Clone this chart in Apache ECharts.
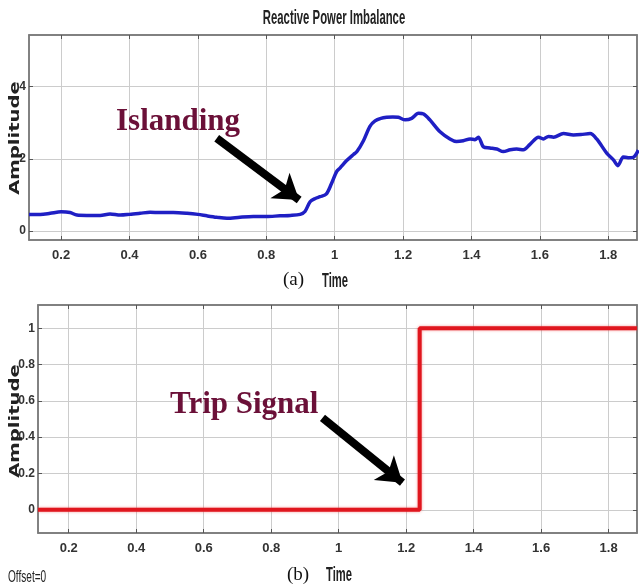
<!DOCTYPE html>
<html>
<head>
<meta charset="utf-8">
<script src="https://cdn.jsdelivr.net/npm/echarts@6/dist/echarts.min.js"></script>
<style>
  html, body { margin: 0; padding: 0; background: #fff; }
  #main { width: 639px; height: 586px; }
</style>
</head>
<body>
<div id="main"></div>
<script>
// (a) 无功功率不平衡
var timeA = [0.106, 0.139, 0.168, 0.2, 0.226, 0.246, 0.275, 0.314, 0.343, 0.373, 0.4, 0.431, 0.46, 0.49, 0.528, 0.568, 0.6,
    0.626, 0.655, 0.685, 0.723, 0.762, 0.8, 0.84, 0.87, 0.899, 0.913, 0.928, 0.943, 0.957, 0.975, 0.99, 1.006, 1.016,
    1.035, 1.055, 1.065, 1.084, 1.103, 1.118, 1.135, 1.152, 1.17, 1.186, 1.206, 1.225, 1.245, 1.26, 1.279, 1.308, 1.337,
    1.356, 1.376, 1.396, 1.41, 1.42, 1.435, 1.454, 1.474, 1.493, 1.513, 1.532, 1.552, 1.571, 1.596, 1.61, 1.625, 1.64,
    1.669, 1.698, 1.72, 1.747, 1.766, 1.796, 1.815, 1.828, 1.844, 1.858, 1.873, 1.888];
var ampA = [0.46, 0.46, 0.49, 0.53, 0.51, 0.44, 0.43, 0.43, 0.47, 0.44, 0.46, 0.49, 0.52, 0.51, 0.51, 0.49, 0.46,
    0.42, 0.38, 0.35, 0.38, 0.4, 0.4, 0.42, 0.43, 0.46, 0.54, 0.81, 0.9, 0.95, 1.02, 1.3, 1.65, 1.75,
    1.95, 2.12, 2.2, 2.5, 2.9, 3.05, 3.12, 3.15, 3.16, 3.15, 3.08, 3.12, 3.26, 3.24, 3.07, 2.75, 2.55,
    2.48, 2.5, 2.55, 2.53, 2.6, 2.33, 2.3, 2.27, 2.2, 2.25, 2.27, 2.25, 2.4, 2.6, 2.55, 2.62, 2.6,
    2.7, 2.66, 2.67, 2.7, 2.55, 2.15, 1.97, 1.81, 2.05, 2.03, 2.04, 2.24];

// (b) 跳闸信号
var timeB = [0.109, 1.24, 1.24, 1.884];
var ampB = [0, 0, 1, 1];

var xTicks = [0.2, 0.4, 0.6, 0.8, 1, 1.2, 1.4, 1.6, 1.8];
var yTicksA = [0, 2, 4];
var yTicksB = [0, 0.2, 0.4, 0.6, 0.8, 1];

// 箭头 [起点, 终点]
var arrowA = [[0.655, 2.57], [0.896, 0.86]];
var arrowB = [[0.952, 0.506], [1.189, 0.149]];

function zip(xs, ys) {
    var out = [];
    for (var i = 0; i < xs.length; i++) {
        out.push([xs[i], ys[i]]);
    }
    return out;
}

var sans = "'Liberation Sans', Arial, sans-serif";
var serif = "'Liberation Serif', 'Times New Roman', serif";
var frameColor = '#7a7a7a';
var gridColor = '#cccccc';
var labelColor = '#333333';

function mainX(idx, min, max) {
    return {
        type: 'value', gridIndex: idx, min: min, max: max, position: 'bottom',
        axisLine: { show: true, onZero: false, lineStyle: { color: frameColor, width: 1.5 } },
        axisTick: { show: true, inside: true, length: 4, customValues: xTicks, lineStyle: { color: '#555' } },
        axisLabel: {
            customValues: xTicks, margin: 9, color: labelColor, fontFamily: sans, fontWeight: 'bold', fontSize: 13
        },
        splitLine: { show: true, lineStyle: { color: gridColor, width: 1 } }
    };
}
function topX(idx, min, max) {
    return {
        type: 'value', gridIndex: idx, min: min, max: max, position: 'top',
        axisLine: { show: true, onZero: false, lineStyle: { color: frameColor, width: 1.5 } },
        axisTick: { show: true, inside: true, length: 4, customValues: xTicks, lineStyle: { color: '#555' } },
        axisLabel: { show: false },
        splitLine: { show: false }
    };
}
function mainY(idx, min, max, ticks) {
    return {
        type: 'value', gridIndex: idx, min: min, max: max, position: 'left',
        axisLine: { show: true, onZero: false, lineStyle: { color: frameColor, width: 1.5 } },
        axisTick: { show: true, inside: true, length: 4, customValues: ticks, lineStyle: { color: '#555' } },
        axisLabel: {
            customValues: ticks, margin: 3, color: labelColor, fontFamily: sans, fontWeight: 'bold', fontSize: 12
        },
        splitLine: { show: true, lineStyle: { color: gridColor, width: 1 } }
    };
}
function rightY(idx, min, max, ticks) {
    return {
        type: 'value', gridIndex: idx, min: min, max: max, position: 'right',
        axisLine: { show: true, onZero: false, lineStyle: { color: frameColor, width: 1.5 } },
        axisTick: { show: true, inside: true, length: 4, customValues: ticks, lineStyle: { color: '#555' } },
        axisLabel: { show: false },
        splitLine: { show: false }
    };
}
function arrowLine(a) {
    return {
        silent: true,
        animation: false,
        symbol: ['none', 'arrow'],
        symbolSize: 24,
        label: { show: false },
        emphasis: { disabled: true },
        lineStyle: { color: '#000', width: 8, type: 'solid' },
        data: [[{ coord: a[0] }, { coord: a[1] }]]
    };
}
// 压缩/拉伸的窄体文字
function squeezed(text, x, y, font, sx, sy, align, color) {
    return {
        type: 'text', x: x, y: y, scaleX: sx, scaleY: sy, z: 50,
        style: { text: text, fill: color || '#222', font: font, align: align || 'left', verticalAlign: 'middle' }
    };
}
function ampName(y) {
    return {
        type: 'text', x: 15, y: y, rotation: Math.PI / 2, scaleX: 1.4, z: 50,
        style: { text: 'Amplitude', fill: '#222', font: 'bold 14px "DejaVu Sans", sans-serif', align: 'center', verticalAlign: 'middle' }
    };
}

var myChart = echarts.init(document.getElementById('main'));

var option = {
    backgroundColor: '#fff',
    animation: false,
    grid: [
        { left: 29, top: 35, right: 2, height: 205, outerBoundsMode: 'none', show: true, borderColor: frameColor, borderWidth: 1.5, backgroundColor: '#fff' },
        { left: 38, top: 305, right: 2, height: 228, outerBoundsMode: 'none', show: true, borderColor: frameColor, borderWidth: 1.5, backgroundColor: '#fff' }
    ],
    xAxis: [
        mainX(0, 0.106, 1.884),
        mainX(1, 0.109, 1.884),
        topX(0, 0.106, 1.884),
        topX(1, 0.109, 1.884)
    ],
    yAxis: [
        mainY(0, -0.25, 5.43, yTicksA),
        mainY(1, -0.128, 1.128, yTicksB),
        rightY(0, -0.25, 5.43, yTicksA),
        rightY(1, -0.128, 1.128, yTicksB)
    ],
    series: [
        {
            name: 'Reactive Power Imbalance',
            type: 'line',
            xAxisIndex: 0,
            yAxisIndex: 0,
            data: zip(timeA, ampA),
            showSymbol: false,
            smooth: 0.3,
            lineStyle: { color: '#1f1fc4', width: 3.5 },
            markLine: arrowLine(arrowA)
        },
        {
            name: 'Trip Signal',
            type: 'line',
            xAxisIndex: 1,
            yAxisIndex: 1,
            data: zip(timeB, ampB),
            showSymbol: false,
            lineStyle: { color: '#e0161e', width: 4, shadowColor: 'rgba(240,80,80,0.6)', shadowBlur: 3 },
            markLine: arrowLine(arrowB)
        }
    ],
    graphic: [
        squeezed('Reactive Power Imbalance', 334, 19, 'bold 14px ' + sans, 0.81, 1.4, 'center'),
        squeezed('Time', 322, 281, 'bold 14px ' + sans, 0.8, 1.5),
        squeezed('Time', 326, 575, 'bold 14px ' + sans, 0.8, 1.5),
        squeezed('Offset=0', 8, 577.5, '12px ' + sans, 0.84, 1.3),
        ampName(138),
        ampName(421),
        {
            type: 'text', x: 116, y: 122, z: 100,
            style: { text: 'Islanding', fill: '#6b1038', font: 'bold 31px ' + serif, align: 'left', verticalAlign: 'middle' }
        },
        {
            type: 'text', x: 170, y: 405, z: 100,
            style: { text: 'Trip Signal', fill: '#6b1038', font: 'bold 31px ' + serif, align: 'left', verticalAlign: 'middle' }
        },
        {
            type: 'text', x: 283, y: 280,
            style: { text: '(a)', fill: '#111', font: '19px ' + serif, align: 'left', verticalAlign: 'middle' }
        },
        {
            type: 'text', x: 287, y: 575,
            style: { text: '(b)', fill: '#111', font: '19px ' + serif, align: 'left', verticalAlign: 'middle' }
        }
    ]
};

myChart.setOption(option);
</script>
</body>
</html>
